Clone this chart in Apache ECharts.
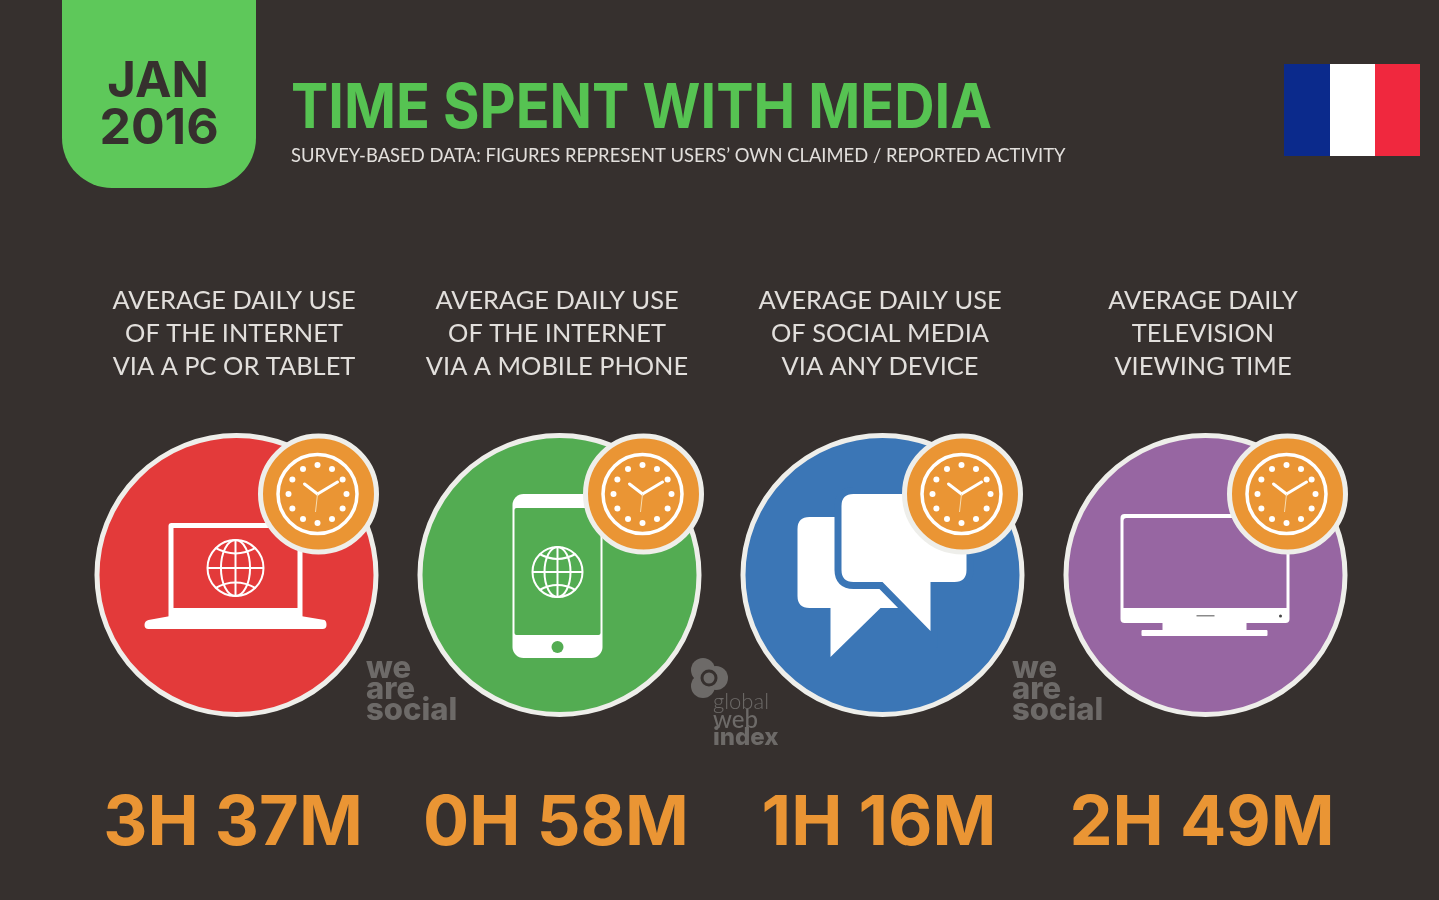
<!DOCTYPE html>
<html>
<head>
<meta charset="utf-8">
<title>Time spent with media</title>
<script src="https://cdn.jsdelivr.net/npm/echarts@6/dist/echarts.min.js"></script>
<style>
  html, body { margin: 0; padding: 0; background: #36302e; }
  #chart { width: 1439px; height: 900px; }
</style>
</head>
<body>
<div id="chart"></div>
<script>
// values
const categories = ['PC or tablet', 'Mobile phone', 'Social media', 'Television'];
const headings = [
  'AVERAGE DAILY USE\nOF THE INTERNET\nVIA A PC OR TABLET',
  'AVERAGE DAILY USE\nOF THE INTERNET\nVIA A MOBILE PHONE',
  'AVERAGE DAILY USE\nOF SOCIAL MEDIA\nVIA ANY DEVICE',
  'AVERAGE DAILY\nTELEVISION\nVIEWING TIME'
];
const dailyMinutes = [217, 58, 76, 169];

// styling per category
const discColors = ['#e33a3a', '#53ac52', '#3b76b6', '#9766a2'];
const badgeShift = [82, 84, 80, 82];

const WHITE = '#ffffff';
const RIM = '#eeeeea';
const ORANGE = '#ea9534';
const DARK = '#36302e';
const LOGO = '#6d6a68';

const toHours = m => Math.floor(m / 60) + 'H ' + (m % 60) + 'M';

// all icon shapes below are offsets from the disc centre
function globe(x, y, r) {
  const line = { stroke: WHITE, lineWidth: 2, fill: 'none' };
  const d = r * 0.72;
  const curve = 'M' + (-d) + ' ' + (-d) + 'Q0 ' + (-d * 0.45) + ' ' + d + ' ' + (-d) +
    'M' + (-d) + ' ' + d + 'Q0 ' + (d * 0.45) + ' ' + d + ' ' + d;
  return {
    type: 'group', x: x, y: y,
    children: [
      { type: 'circle', shape: { cx: 0, cy: 0, r: r }, style: line },
      { type: 'ellipse', shape: { cx: 0, cy: 0, rx: r * 0.52, ry: r }, style: line },
      { type: 'line', shape: { x1: 0, y1: -r, x2: 0, y2: r }, style: line },
      { type: 'line', shape: { x1: -r, y1: 0, x2: r, y2: 0 }, style: line },
      { type: 'path', shape: { pathData: curve }, style: line }
    ]
  };
}

function box(x1, y1, x2, y2, radius, fill) {
  return {
    type: 'rect',
    shape: { x: x1, y: y1, width: x2 - x1, height: y2 - y1, r: radius },
    style: { fill: fill }
  };
}

function laptop(bg) {
  return [
    box(-68, -52, 66, 42, [3, 3, 0, 0], WHITE),
    box(-63, -47, 61, 33, 0, bg),
    {
      type: 'path',
      shape: { pathData: 'M-66 38L64 38L64 41L88 45Q90 46 90 50Q90 54 86 54L-88 54Q-92 54 -92 50Q-92 46 -88 45L-66 41Z' },
      style: { fill: WHITE }
    },
    globe(-1, -7, 28)
  ];
}

function phone(bg) {
  return [
    box(-47, -81, 43, 83, 11, WHITE),
    box(-45, -67, 41, 60, 2, bg),
    { type: 'circle', shape: { cx: -2, cy: 72, r: 6 }, style: { fill: bg } },
    globe(-2, -3, 25)
  ];
}

function chat(bg) {
  const back = 'M-73 -58L20 -58L20 33L-2 33L-52 82L-52 33L-73 33Q-85 33 -85 21L-85 -46Q-85 -58 -73 -58Z';
  const front = 'M-29 -81L72 -81Q84 -81 84 -69L84 -5Q84 7 72 7L48 7L48 56L0 7L-29 7Q-41 7 -41 -5L-41 -69Q-41 -81 -29 -81Z';
  return [
    { type: 'path', shape: { pathData: back }, style: { fill: WHITE } },
    { type: 'path', shape: { pathData: front }, style: { fill: bg, stroke: bg, lineWidth: 14 } },
    { type: 'path', shape: { pathData: front }, style: { fill: WHITE } }
  ];
}

function television(bg) {
  return [
    box(-85, -61, 84, 48, 4, WHITE),
    box(-82, -57, 81, 33, [3, 3, 0, 0], bg),
    box(-43, 47, 41, 56, 0, WHITE),
    box(-64, 55, 62, 61, 1, WHITE),
    box(-9, 40, 9, 41.5, 0, '#8a8a8a'),
    { type: 'circle', shape: { cx: 75, cy: 41, r: 1.5 }, style: { fill: '#444' } }
  ];
}

const icons = [laptop, phone, chat, television];

function clockBadge(x, y) {
  const children = [
    { type: 'circle', shape: { cx: 0, cy: 0, r: 58 }, style: { fill: ORANGE, stroke: RIM, lineWidth: 5 } },
    { type: 'circle', shape: { cx: -1, cy: 0, r: 39.5 }, style: { fill: ORANGE, stroke: WHITE, lineWidth: 3.5 } }
  ];
  for (let h = 0; h < 12; h++) {
    const a = h * Math.PI / 6;
    children.push({
      type: 'circle',
      shape: { cx: -1 + 29 * Math.sin(a), cy: 29 * Math.cos(a), r: 3 },
      style: { fill: WHITE }
    });
  }
  const hand = { stroke: WHITE, lineWidth: 3, lineCap: 'round', fill: 'none' };
  children.push(
    { type: 'line', shape: { x1: -1, y1: 0, x2: -14, y2: -10 }, style: hand },
    { type: 'line', shape: { x1: -1, y1: 0, x2: 19, y2: -12 }, style: hand },
    { type: 'line', shape: { x1: -1, y1: 0, x2: -3, y2: 18 }, style: { stroke: '#f7dcb0', lineWidth: 1 } }
  );
  return { type: 'group', x: x, y: y, children: children };
}

function renderIcon(params, api) {
  const i = api.value(0);
  const c = api.coord([i, 0]);
  return {
    type: 'group',
    x: c[0],
    y: c[1],
    children: icons[i](discColors[i]).concat(clockBadge(badgeShift[i], -81))
  };
}

function weAreSocial(x) {
  const font = '800 31px Inter';
  return [
    ['we', 669], ['are', 690], ['social', 711]
  ].map(t => ({
    type: 'text', x: x, y: t[1],
    style: { text: t[0], font: font, fill: LOGO, verticalAlign: 'middle' }
  }));
}

const chart = echarts.init(document.getElementById('chart'));
chart.setOption({
  backgroundColor: DARK,
  animation: false,
  grid: { left: 75, top: 433, width: 1292, height: 284 },
  xAxis: [
    {
      type: 'category',
      position: 'top',
      data: headings,
      axisLine: { show: false },
      axisTick: { show: false },
      axisLabel: {
        interval: 0,
        margin: 50,
        padding: [0, 5, 0, 0],
        color: '#e2dfdc',
        fontFamily: 'Lato',
        fontSize: 25.4,
        lineHeight: 33
      }
    },
    {
      type: 'category',
      position: 'bottom',
      data: dailyMinutes,
      axisLine: { show: false },
      axisTick: { show: false },
      axisLabel: {
        interval: 0,
        margin: 72,
        padding: [0, 7, 0, 0],
        color: ORANGE,
        fontFamily: 'Inter',
        fontWeight: 700,
        fontSize: 68.5,
        lineHeight: 70,
        formatter: v => toHours(+v)
      }
    }
  ],
  yAxis: { type: 'category', data: ['daily use'], show: false },
  series: [
    {
      name: 'Daily use',
      type: 'scatter',
      silent: true,
      clip: false,
      symbol: 'circle',
      symbolSize: 279,
      data: categories.map((c, i) => ({
        name: c,
        value: [i, 0, dailyMinutes[i]],
        itemStyle: { color: discColors[i], borderColor: RIM, borderWidth: 5, opacity: 1 }
      })),
      z: 2
    },
    {
      name: 'Icons',
      type: 'custom',
      silent: true,
      clip: false,
      renderItem: renderIcon,
      data: categories.map((c, i) => [i, 0]),
      z: 3
    }
  ],
  graphic: [
    {
      type: 'rect',
      shape: { x: 62, y: -60, width: 194, height: 248, r: 50 },
      style: { fill: '#5ec85a' }
    },
    {
      type: 'text', x: 158, y: 82,
      style: { text: 'JAN', font: '700 49px Inter', fill: DARK, align: 'center', verticalAlign: 'middle' }
    },
    {
      type: 'text', x: 159, y: 129,
      style: { text: '2016', font: '700 50px Inter', fill: DARK, align: 'center', verticalAlign: 'middle' }
    },
    {
      type: 'text', x: 291, y: 109, scaleX: 0.9,
      style: { text: 'TIME SPENT WITH MEDIA', font: '700 62px Inter', fill: '#56c352', verticalAlign: 'middle' }
    },
    {
      type: 'text', x: 291, y: 156, scaleX: 0.92,
      style: { text: 'SURVEY-BASED DATA: FIGURES REPRESENT USERS\u2019 OWN CLAIMED / REPORTED ACTIVITY', font: '400 20px Lato', fill: '#e2dfdc', verticalAlign: 'middle' }
    },
    { type: 'rect', shape: { x: 1284, y: 64, width: 46, height: 92 }, style: { fill: '#0b2a8c' } },
    { type: 'rect', shape: { x: 1330, y: 64, width: 45, height: 92 }, style: { fill: '#ffffff' } },
    { type: 'rect', shape: { x: 1375, y: 64, width: 45, height: 92 }, style: { fill: '#f0283e' } },
    ...weAreSocial(366),
    ...weAreSocial(1012),
    { type: 'circle', shape: { cx: 703, cy: 670, r: 12 }, style: { fill: LOGO } },
    { type: 'circle', shape: { cx: 716, cy: 678, r: 12 }, style: { fill: LOGO } },
    { type: 'circle', shape: { cx: 703, cy: 686, r: 12 }, style: { fill: LOGO } },
    { type: 'circle', shape: { cx: 709, cy: 678, r: 7 }, style: { fill: LOGO, stroke: DARK, lineWidth: 3 } },
    {
      type: 'text', x: 713, y: 702,
      style: { text: 'global', font: '300 22px Lato', fill: LOGO, verticalAlign: 'middle' }
    },
    {
      type: 'text', x: 713, y: 720,
      style: { text: 'web', font: '500 24px Lato', fill: LOGO, verticalAlign: 'middle' }
    },
    {
      type: 'text', x: 713, y: 738,
      style: { text: 'index', font: '800 24px Inter', fill: LOGO, verticalAlign: 'middle' }
    }
  ]
});
</script>
</body>
</html>
